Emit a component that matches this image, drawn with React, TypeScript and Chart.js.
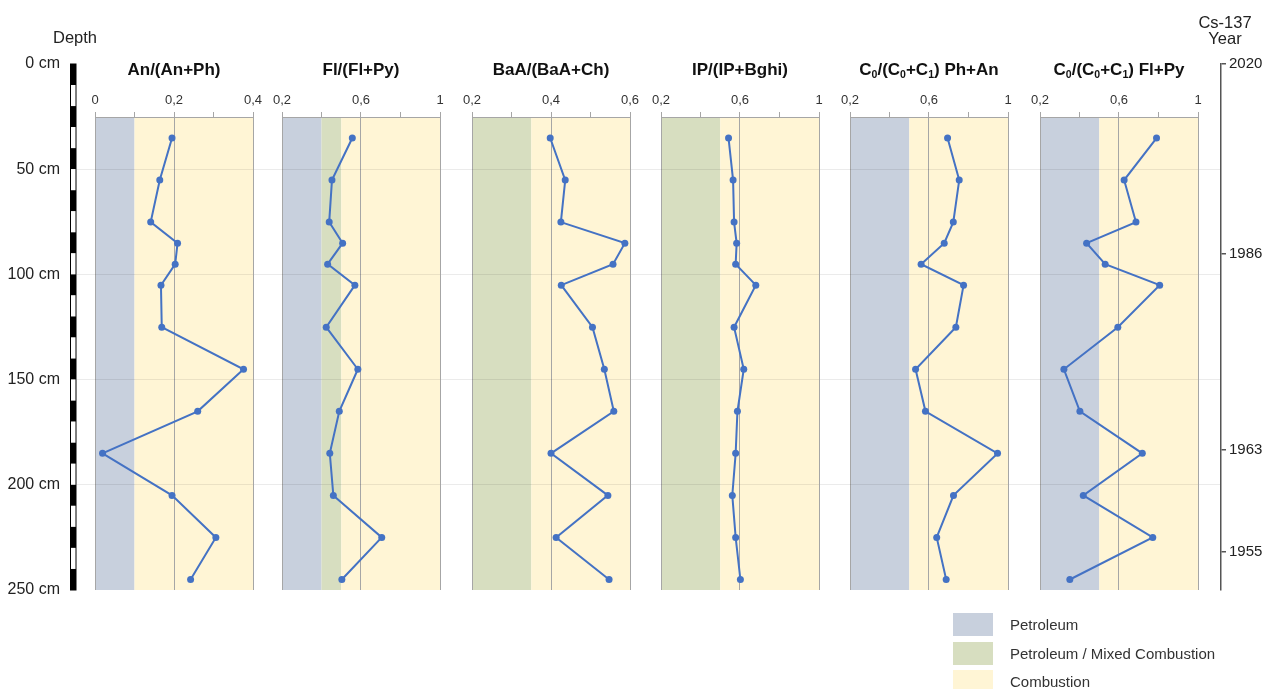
import React, { useEffect, useRef } from 'react';
import { Chart, registerables } from 'chart.js';

Chart.register(...registerables);

// ---------------- DATA ----------------
const depths = [35, 55, 75, 85, 95, 105, 125, 145, 165, 185, 205, 225, 245];

const anRatio = [0.195, 0.164, 0.141, 0.209, 0.203, 0.167, 0.169, 0.376, 0.26, 0.019, 0.195, 0.306, 0.242];
const flRatio = [0.556, 0.453, 0.439, 0.507, 0.431, 0.569, 0.424, 0.584, 0.49, 0.442, 0.46, 0.705, 0.503];
const baaRatio = [0.398, 0.436, 0.425, 0.587, 0.557, 0.426, 0.505, 0.535, 0.559, 0.4, 0.544, 0.413, 0.547];
const ipRatio = [0.542, 0.565, 0.57, 0.583, 0.578, 0.68, 0.57, 0.619, 0.587, 0.578, 0.561, 0.578, 0.602];
const c0PhAn = [0.694, 0.753, 0.723, 0.677, 0.56, 0.775, 0.736, 0.532, 0.582, 0.947, 0.724, 0.639, 0.687];
const c0FlPy = [0.79, 0.626, 0.686, 0.436, 0.53, 0.806, 0.594, 0.321, 0.402, 0.718, 0.419, 0.771, 0.351];

const depthTicks = [0, 50, 100, 150, 200, 250];
const depthGridTicks = [50, 100, 150, 200];
const yearLabels = ['2020', '1986', '1963', '1955'];
const yearDepths = [0, 90, 183.5, 232];

const bandNames = ['Petroleum', 'Petroleum / Mixed Combustion', 'Combustion'];
const bandColors = ['#c8d0dd', '#d7dec0', '#fff5d5'];

// [petroleum, mixed, combustion] ranges per panel (null = absent)
const anBands = [[0, 0.1], null, [0.1, 0.4]];
const flBands = [[0.2, 0.4], [0.4, 0.5], [0.5, 1]];
const baaBands = [null, [0.2, 0.35], [0.35, 0.6]];
const ipBands = [null, [0.2, 0.5], [0.5, 1]];
const c0PhAnBands = [[0.2, 0.5], null, [0.5, 1]];
const c0FlPyBands = [[0.2, 0.5], null, [0.5, 1]];

const anTicks = ['0', '0,2', '0,4'];
const wideTicks = ['0,2', '0,6', '1'];
const baaTicks = ['0,2', '0,4', '0,6'];

// ---------------- STYLE / LAYOUT ----------------
const FONT = "'Liberation Sans', Arial, Helvetica, sans-serif";
const LINE = '#4472c4';
const VGRID = '#a6a6a6';
const HGRID = 'rgba(0,0,0,0.08)';
const PLOT_TOP = 117;
const PLOT_BOTTOM = 590;
const PLOT_W = 158;
const PAD = 20;
const TOPH = 40;
const depthBarStep = 10;

const sub = (t: string) => (
  <sub style={{ fontSize: '0.62em', verticalAlign: '-0.25em', lineHeight: 0 }}>{t}</sub>
);

const panels = [
  { key: 'an', title: <>An/(An+Ph)</>, min: 0, max: 0.4, step: 0.1, values: anRatio, bands: anBands, ticks: anTicks, left: 95 },
  { key: 'fl', title: <>Fl/(Fl+Py)</>, min: 0.2, max: 1, step: 0.2, values: flRatio, bands: flBands, ticks: wideTicks, left: 282 },
  { key: 'baa', title: <>BaA/(BaA+Ch)</>, min: 0.2, max: 0.6, step: 0.1, values: baaRatio, bands: baaBands, ticks: baaTicks, left: 472 },
  { key: 'ip', title: <>IP/(IP+Bghi)</>, min: 0.2, max: 1, step: 0.2, values: ipRatio, bands: ipBands, ticks: wideTicks, left: 661 },
  { key: 'c0a', title: <>C{sub('0')}/(C{sub('0')}+C{sub('1')}) Ph+An</>, min: 0.2, max: 1, step: 0.2, values: c0PhAn, bands: c0PhAnBands, ticks: wideTicks, left: 850 },
  { key: 'c0b', title: <>C{sub('0')}/(C{sub('0')}+C{sub('1')}) Fl+Py</>, min: 0.2, max: 1, step: 0.2, values: c0FlPy, bands: c0FlPyBands, ticks: wideTicks, left: 1040 },
];

function Panel({ p }: { p: any }) {
  const ref = useRef<HTMLCanvasElement>(null);
  useEffect(() => {
    const bandPlugin = {
      id: 'bands' + p.key,
      beforeDraw(chart: any) {
        const { ctx, chartArea: a, scales } = chart;
        const xs = scales.x;
        ctx.save();
        p.bands.forEach((b: number[] | null, i: number) => {
          if (!b) return;
          const x0 = xs.getPixelForValue(b[0]);
          const x1 = xs.getPixelForValue(b[1]);
          ctx.fillStyle = bandColors[i];
          ctx.fillRect(x0, a.top, x1 - x0, a.bottom - a.top);
        });
        ctx.restore();
      },
    };
    const chart = new Chart(ref.current as HTMLCanvasElement, {
      type: 'scatter',
      data: {
        datasets: [
          {
            data: p.values.map((v: number, i: number) => ({ x: v, y: depths[i] })),
            showLine: true,
            borderColor: LINE,
            backgroundColor: LINE,
            borderWidth: 2,
            pointRadius: 3.5,
            pointBorderWidth: 0,
            pointBackgroundColor: LINE,
          },
        ],
      },
      options: {
        animation: false,
        responsive: false,
        events: [],
        layout: { autoPadding: false, padding: { left: PAD, right: PAD, top: 0, bottom: 0 } },
        plugins: { legend: { display: false }, tooltip: { enabled: false } },
        scales: {
          x: {
            type: 'linear',
            position: 'top',
            min: p.min,
            max: p.max,
            ticks: {
              stepSize: p.step,
              autoSkip: false,
              maxRotation: 0,
              padding: 4,
              color: '#333',
              font: { family: FONT, size: 13 },
              callback: (_v: any, i: number) => (i % 2 === 0 ? p.ticks[i / 2] : ''),
            },
            grid: {
              color: (c: any) => (c.index % 2 === 0 ? VGRID : 'rgba(0,0,0,0)'),
              tickColor: VGRID,
              tickLength: 5,
              lineWidth: 1,
            },
            border: { display: true, color: VGRID, width: 1 },
            afterFit: (s: any) => {
              s.height = TOPH;
            },
          },
          y: {
            type: 'linear',
            min: 25,
            max: 250,
            reverse: true,
            afterBuildTicks: (s: any) => {
              s.ticks = depthGridTicks.map((v) => ({ value: v }));
            },
            ticks: { display: false },
            grid: { drawTicks: false, color: HGRID },
            border: { display: false },
            afterFit: (s: any) => {
              s.width = 0;
            },
          },
        },
      } as any,
      plugins: [bandPlugin],
    });
    return () => chart.destroy();
  }, []);
  const top = PLOT_TOP - TOPH;
  return (
    <>
      <div
        style={{
          position: 'absolute',
          left: p.left - 30,
          width: PLOT_W + 60,
          top: 59,
          height: 22,
          lineHeight: '22px',
          textAlign: 'center',
          fontWeight: 'bold',
          fontSize: 17,
          color: '#111',
          whiteSpace: 'nowrap',
        }}
      >
        {p.title}
      </div>
      <canvas
        ref={ref}
        width={PLOT_W + 2 * PAD}
        height={PLOT_BOTTOM - top}
        style={{ position: 'absolute', left: p.left - PAD, top, width: PLOT_W + 2 * PAD, height: PLOT_BOTTOM - top }}
      />
    </>
  );
}

function Background() {
  const ref = useRef<HTMLCanvasElement>(null);
  useEffect(() => {
    const barPlugin = {
      id: 'depthBar',
      afterDraw(chart: any) {
        const { ctx, scales } = chart;
        const ys = scales.y;
        ctx.save();
        for (let d = 0; d < 250; d += depthBarStep) {
          const y0 = ys.getPixelForValue(d);
          const y1 = ys.getPixelForValue(d + depthBarStep);
          ctx.fillStyle = (d / depthBarStep) % 2 === 0 ? '#000' : '#fff';
          ctx.fillRect(70, y0, 6, y1 - y0);
        }
        ctx.strokeStyle = '#000';
        ctx.lineWidth = 1;
        const t = ys.getPixelForValue(0);
        const b = ys.getPixelForValue(250);
        ctx.strokeRect(70.5, t, 5.5, b - t);
        ctx.restore();
      },
    };
    const chart = new Chart(ref.current as HTMLCanvasElement, {
      type: 'scatter',
      data: { datasets: [] },
      options: {
        animation: false,
        responsive: false,
        events: [],
        layout: { autoPadding: false, padding: { top: 64, bottom: 99, left: 0, right: 0 } },
        plugins: { legend: { display: false }, tooltip: { enabled: false } },
        scales: {
          x: { type: 'linear', display: false, min: 0, max: 1 },
          y: {
            type: 'linear',
            position: 'left',
            min: 0,
            max: 250,
            reverse: true,
            afterBuildTicks: (s: any) => {
              s.ticks = depthTicks.map((v) => ({ value: v }));
            },
            ticks: {
              padding: 17,
              color: '#222',
              font: { family: FONT, size: 16 },
              callback: (v: any) => `${v} cm`,
            },
            grid: {
              drawTicks: false,
              color: (c: any) => (depthGridTicks.includes(c.tick?.value) ? HGRID : 'rgba(0,0,0,0)'),
            },
            border: { display: false },
            afterFit: (s: any) => {
              s.width = 77;
            },
          },
          yr: {
            type: 'linear',
            position: 'right',
            min: 0,
            max: 250,
            reverse: true,
            afterBuildTicks: (s: any) => {
              s.ticks = yearDepths.map((v) => ({ value: v }));
            },
            ticks: {
              padding: 3,
              color: '#222',
              font: { family: FONT, size: 15 },
              callback: (_v: any, i: number) => yearLabels[i],
            },
            grid: { drawOnChartArea: false, tickLength: 5, color: '#555', lineWidth: 1.5 },
            border: { display: true, color: '#555', width: 1.5 },
            afterFit: (s: any) => {
              s.width = 43;
            },
          },
        },
      } as any,
      plugins: [barPlugin],
    });
    return () => chart.destroy();
  }, []);
  return <canvas ref={ref} width={1264} height={689} style={{ position: 'absolute', left: 0, top: 0, width: 1264, height: 689 }} />;
}

export default function App() {
  return (
    <div
      style={{
        position: 'fixed',
        left: 0,
        top: 0,
        width: 1264,
        height: 689,
        overflow: 'hidden',
        background: '#fff',
        fontFamily: FONT,
        color: '#222',
      }}
    >
      <Background />
      {panels.map((p) => (
        <Panel key={p.key} p={p} />
      ))}
      <div style={{ position: 'absolute', left: 40, width: 70, top: 27, textAlign: 'center', fontSize: 16.5, lineHeight: '20px' }}>Depth</div>
      <div style={{ position: 'absolute', left: 1185, width: 80, top: 14, textAlign: 'center', fontSize: 16.5, lineHeight: '16px' }}>
        Cs-137
        <br />
        Year
      </div>
      {bandNames.map((n, i) => (
        <div key={n} style={{ position: 'absolute', left: 953, top: 613 + i * 28.5, height: 23, display: 'flex', alignItems: 'center' }}>
          <div style={{ width: 40, height: 23, background: bandColors[i] }} />
          <div style={{ marginLeft: 17, fontSize: 15, color: '#333', whiteSpace: 'nowrap' }}>{n}</div>
        </div>
      ))}
    </div>
  );
}
